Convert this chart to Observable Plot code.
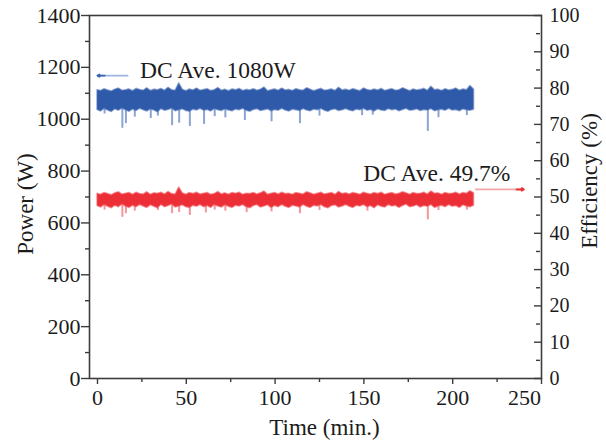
<!DOCTYPE html>
<html><head><meta charset="utf-8">
<script src="https://cdn.jsdelivr.net/npm/d3@7"></script>
<script src="https://cdn.jsdelivr.net/npm/@observablehq/plot@0.6"></script>
<style>
body{margin:0;background:#fff}
#chart svg, #chart svg text{font-family:"Liberation Serif","Times New Roman",serif !important;}
</style>
</head><body><div id="chart"></div>
<script>
// ---- data (samples every 2 min, 0..212 min) ----
const sampleStepMin = 2;
// DC power (W): upper and lower edge of the noisy band
const powerHi = [
1112,1109,1116,1111,1107,1114,1118,1110,1112,1115,
1108,1117,1113,1110,1119,1109,1114,1112,1117,1110,
1121,1112,1110,1138,1114,1108,1115,1111,1118,1110,
1113,1116,1109,1112,1120,1110,1114,1108,1115,1112,
1117,1109,1113,1111,1116,1110,1114,1122,1108,1112,
1115,1110,1118,1111,1113,1109,1116,1112,1110,1119,
1114,1108,1113,1117,1110,1112,1115,1109,1121,1111,
1114,1110,1116,1112,1108,1118,1113,1110,1115,1111,
1117,1109,1113,1116,1110,1112,1119,1114,1108,1115,
1111,1113,1117,1110,1125,1112,1114,1109,1116,1111,
1113,1118,1110,1115,1112,1128,1114];
const powerLo = [
1036,1030,1040,1034,1028,1038,1033,1041,1035,1029,
1037,1032,1040,1035,1030,1038,1034,1027,1039,1033,
1036,1041,1031,1035,1038,1032,1029,1037,1034,1040,
1033,1036,1030,1039,1035,1032,1038,1034,1031,1037,
1035,1040,1033,1029,1036,1039,1032,1035,1038,1031,
1036,1033,1040,1034,1030,1037,1035,1032,1039,1034,
1031,1037,1035,1040,1033,1029,1036,1038,1032,1035,
1039,1034,1031,1037,1035,1040,1033,1036,1030,1038,
1034,1032,1039,1035,1037,1031,1036,1040,1033,1035,
1038,1032,1036,1034,1039,1031,1035,1037,1033,1040,
1034,1036,1031,1038,1035,1033,1037];
// downward spikes of power: time (min) and value (W)
const powerDipTime = [4,14,16,21,30,34,42,46,52,60,66,72,83,98,114,125,149,155,186,192,208];
const powerDipValue = [1020,965,983,1008,1003,1012,975,985,972,980,1010,1005,995,990,983,1012,1014,1016,953,1006,1014];

// DC efficiency (%): upper and lower edge of the noisy band
const effHi = [
50.9,50.6,51.1,50.8,50.5,51.0,51.3,50.7,50.9,51.1,
50.6,51.2,50.8,50.7,51.3,50.6,51.0,50.9,51.2,50.7,
51.4,50.8,50.7,52.6,51.0,50.6,51.1,50.8,51.2,50.7,
50.9,51.1,50.6,50.8,51.4,50.7,51.0,50.6,51.1,50.9,
51.2,50.6,50.9,50.8,51.1,50.7,51.0,51.5,50.6,50.9,
51.1,50.7,51.2,50.8,50.9,50.6,51.1,50.9,50.7,51.3,
51.0,50.6,50.9,51.2,50.7,50.9,51.1,50.6,51.4,50.8,
51.0,50.7,51.1,50.9,50.6,51.2,50.9,50.7,51.1,50.8,
51.2,50.6,50.9,51.1,50.7,50.9,51.3,51.0,50.6,51.1,
50.8,50.9,51.2,50.7,51.5,50.9,51.0,50.6,51.1,50.8,
50.9,51.2,50.7,51.1,50.9,51.6,51.0];
const effLo = [
47.5,47.1,47.8,47.3,46.9,47.6,47.2,47.9,47.4,47.0,
47.6,47.2,47.8,47.4,47.0,47.7,47.3,46.9,47.8,47.2,
47.5,47.9,47.1,47.4,47.7,47.2,47.0,47.6,47.3,47.8,
47.2,47.5,47.0,47.8,47.4,47.1,47.7,47.3,47.0,47.6,
47.4,47.8,47.2,46.9,47.5,47.8,47.1,47.4,47.7,47.0,
47.5,47.2,47.8,47.3,47.0,47.6,47.4,47.1,47.8,47.3,
47.0,47.6,47.4,47.8,47.2,46.9,47.5,47.7,47.1,47.4,
47.8,47.3,47.0,47.6,47.4,47.8,47.2,47.5,46.9,47.7,
47.3,47.1,47.8,47.4,47.6,47.0,47.5,47.9,47.2,47.4,
47.7,47.1,47.5,47.3,47.8,47.0,47.4,47.6,47.2,47.8,
47.3,47.5,47.0,47.7,47.4,47.2,47.6];
const effDipTime = [4,14,16,21,34,42,46,52,61,66,72,84,98,114,125,152,186,192,208];
const effDipValue = [46.4,44.4,45.4,46.1,46.3,45.4,45.7,44.9,45.6,46.4,46.1,45.7,45.9,45.4,46.3,46.1,43.7,46.3,46.4];

// annotations
const annotationText = ["DC Ave. 1080W", "DC Ave. 49.7%"];
const powerArrowTime = [17, 0];      // tail -> head (min)
const powerArrowValue = 1168;        // W
const effArrowTime = [213, 240];     // tail -> head (min)
const effArrowValue = 52.1;          // %

// axis ticks
const powerTicks = [0,200,400,600,800,1000,1200,1400];
const powerMinor = [100,300,500,700,900,1100,1300];
const effTicks = [0,10,20,30,40,50,60,70,80,90,100];
const effMinor = [5,15,25,35,45,55,65,75,85,95];
const timeTicks = [0,50,100,150,200,250];
const timeMinor = [25,75,125,175,225];

// ---- build ----
const wPerPct = 1400 / 100; // right axis 0-100 % shares the left 0-1400 W range
const blueC = "#2f59a9", redC = "#ec2f37";
const power = powerHi.map((h, i) => ({t: i * sampleStepMin, hi: h, lo: powerLo[i]}));
const eff = effHi.map((h, i) => ({t: i * sampleStepMin, hi: h * wPerPct, lo: effLo[i] * wPerPct}));
const nearLo = (arr, t) => arr[Math.min(arr.length - 1, Math.round(t / sampleStepMin))].lo;
const powerDips = powerDipTime.map((t, i) => ({t, v: powerDipValue[i], base: nearLo(power, t) + 10}));
const effDips = effDipTime.map((t, i) => ({t, v: effDipValue[i] * wPerPct, base: nearLo(eff, t) + 10}));
const lastTime = timeTicks[timeTicks.length - 1];

const axisColor = "#3c3c3c";
const serif = "'Liberation Serif', 'Times New Roman', serif";
const chart = Plot.plot({
  width: 606, height: 443,
  marginLeft: 89, marginRight: 65, marginTop: 15, marginBottom: 65,
  style: {fontFamily: serif, fontSize: "22px", color: "#1c1c1c", background: "#fff", overflow: "visible"},
  x: {domain: [-4.5, 250]},
  y: {domain: [0, 1400]},
  marks: [
    Plot.ruleX(powerDips, {x: "t", y1: "base", y2: "v", stroke: "#5a7ec2", strokeWidth: 2, strokeOpacity: 0.7}),
    Plot.areaY(power, {x: "t", y1: "lo", y2: "hi", fill: blueC, stroke: "#4d72b8", strokeWidth: 1.6, strokeOpacity: 0.55}),
    Plot.ruleX(effDips, {x: "t", y1: "base", y2: "v", stroke: "#f06a70", strokeWidth: 2, strokeOpacity: 0.7}),
    Plot.areaY(eff, {x: "t", y1: "lo", y2: "hi", fill: redC, stroke: "#f05a60", strokeWidth: 1.6, strokeOpacity: 0.55}),
    // arrows
    Plot.arrow([0], {x1: () => powerArrowTime[0], x2: () => powerArrowTime[1], y1: () => powerArrowValue, y2: () => powerArrowValue,
      stroke: "#9fb4de", strokeWidth: 1.6, headLength: 0}),
    Plot.arrow([0], {x1: () => powerArrowTime[1] + 4, x2: () => powerArrowTime[1], y1: () => powerArrowValue, y2: () => powerArrowValue,
      stroke: "#3b63b0", strokeWidth: 1.8, headLength: 6}),
    Plot.arrow([0], {x1: () => effArrowTime[0], x2: () => effArrowTime[1], y1: () => effArrowValue * wPerPct, y2: () => effArrowValue * wPerPct,
      stroke: "#f4a5a8", strokeWidth: 1.6, headLength: 0}),
    Plot.arrow([0], {x1: () => effArrowTime[1] - 4, x2: () => effArrowTime[1], y1: () => effArrowValue * wPerPct, y2: () => effArrowValue * wPerPct,
      stroke: "#e8323a", strokeWidth: 2, headLength: 5}),
    Plot.text([annotationText[0]], {text: d => d, x: 24, y: powerArrowValue, textAnchor: "start", lineAnchor: "bottom", dy: 2, fontSize: 23.5, fontFamily: serif}),
    Plot.text([annotationText[1]], {text: d => d, x: 232.5, y: effArrowValue * wPerPct, textAnchor: "end", lineAnchor: "bottom", dy: -8, fontSize: 23.5, fontFamily: serif}),
    // frame & axes
    Plot.frame({stroke: axisColor, strokeWidth: 1.6}),
    Plot.axisY({ticks: powerTicks, anchor: "left", tickSize: 8, tickPadding: 1, tickFormat: d => String(d), label: null, stroke: axisColor, strokeWidth: 1.4, fontFamily: serif}),
    Plot.axisY({ticks: powerMinor, anchor: "left", tickSize: 4, tickFormat: () => "", label: null, stroke: axisColor, strokeWidth: 1.4}),
    Plot.axisY({ticks: effTicks.map(p => p * wPerPct), anchor: "right", tickSize: 8, dx: -8, tickFormat: () => "", label: null, stroke: axisColor, strokeWidth: 1.4}),
    Plot.axisY({ticks: effMinor.map(p => p * wPerPct), anchor: "right", tickSize: 4, dx: -6, tickFormat: () => "", label: null, stroke: axisColor, strokeWidth: 1.4}),
    Plot.axisY({ticks: effTicks.map(p => p * wPerPct), anchor: "right", tickSize: 0, tickPadding: 8, tickFormat: d => String(Math.round(d / wPerPct)), label: null, fontSize: 20, fontFamily: serif}),
    Plot.axisX({ticks: timeTicks, anchor: "bottom", tickSize: 6, tickPadding: 5, tickFormat: d => d === lastTime ? "" : String(d), label: null, stroke: axisColor, strokeWidth: 1.4, fontFamily: serif}),
    Plot.axisX({ticks: [lastTime], anchor: "bottom", tickSize: 0, tickPadding: 11, dx: -17, tickFormat: d => String(d), label: null, fontFamily: serif}),
    Plot.axisX({ticks: timeMinor, anchor: "bottom", tickSize: 4, tickFormat: () => "", label: null, stroke: axisColor, strokeWidth: 1.4}),
    // axis titles
    Plot.text(["Power (W)"], {text: d => d, frameAnchor: "left", textAnchor: "middle", rotate: -90, dx: -64, dy: 7, fontSize: 23, fontFamily: serif}),
    Plot.text(["Efficiency (%)"], {text: d => d, frameAnchor: "right", textAnchor: "middle", rotate: -90, dx: 48, dy: -16, fontSize: 23, fontFamily: serif}),
    Plot.text(["Time (min.)"], {text: d => d, frameAnchor: "bottom", textAnchor: "middle", dx: 9, dy: 56, fontSize: 23, fontFamily: serif})
  ]
});
document.getElementById("chart").append(chart);
</script>
</body></html>
